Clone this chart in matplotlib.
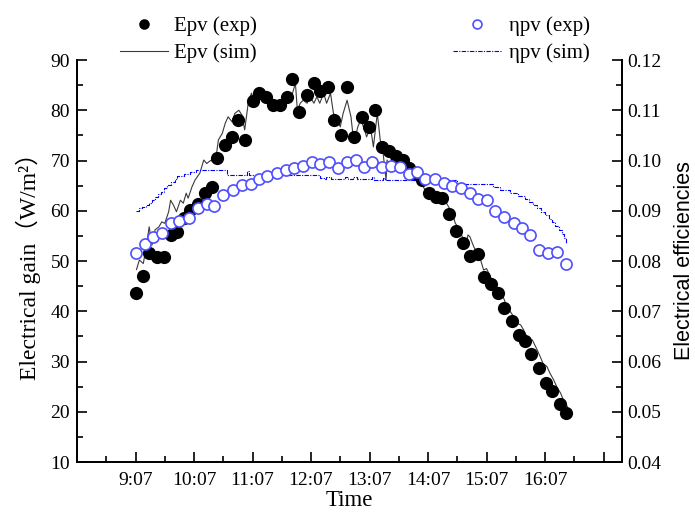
import matplotlib
matplotlib.use("Agg")
import matplotlib.pyplot as plt
from matplotlib.ticker import FixedLocator, MultipleLocator

plt.rcParams['font.family'] = ['Liberation Serif', 'DejaVu Serif']

# --- data, time in minutes after midnight ---
t_exp = [548, 555, 561, 569, 576, 583, 590, 597, 603, 611,
         618, 625, 631, 639, 646, 652, 659, 667, 674, 681,
         688, 695, 702, 708, 715, 723, 730, 736, 744, 751,
         758, 764, 771, 779, 786, 793, 800, 807, 814, 821,
         827, 834, 841, 848, 855, 861, 869, 876, 883, 890,
         898, 904, 912, 919, 925, 933, 940, 946, 953, 961,
         968, 974, 982, 989]
epv_exp = [43.6, 47.0, 51.5, 50.7, 50.7, 55.2, 55.7, 58.5, 60.1, 61.3,
           63.6, 64.7, 70.5, 73.1, 74.7, 78.1, 74.1, 81.9, 83.4, 82.7,
           81.0, 81.0, 82.7, 86.3, 79.7, 83.1, 85.5, 83.8, 84.7, 78.1,
           75.1, 84.7, 74.6, 78.6, 76.7, 80.0, 72.6, 71.8, 70.8, 70.2,
           68.5, 67.3, 66.1, 63.5, 62.8, 62.5, 59.3, 56.0, 53.5, 51.0,
           51.4, 46.9, 45.5, 43.7, 40.6, 38.1, 35.2, 34.1, 31.4, 28.7,
           25.8, 24.2, 21.5, 19.7]

t_sim = [548, 551, 555, 558, 561, 564, 567, 571, 574, 577,
         581, 583, 586, 589, 593, 596, 599, 601, 605, 608,
         613, 617, 620, 624, 629, 632, 636, 639, 642, 646,
         649, 653, 656, 659, 663, 666, 670, 672, 675, 678,
         682, 685, 689, 692, 697, 702, 707, 711, 713, 716,
         719, 723, 726, 730, 733, 736, 740, 743, 747, 750,
         754, 757, 760, 764, 768, 771, 775, 778, 782, 784,
         788, 791, 795, 798, 801, 804, 805, 807, 810, 815,
         819, 825, 832, 837, 842, 846, 851, 856, 861, 866,
         872, 875, 880, 883, 887, 888, 890, 894, 897, 901,
         904, 907, 911, 914, 918, 921, 924, 928, 935, 938,
         942, 945, 950, 954, 959, 962, 965, 969, 972, 976,
         979, 983, 986, 990]
epv_sim = [48.3, 50.2, 49.5, 52.8, 56.8, 53.2, 56.2, 56.8, 57.8, 57.5,
           59.8, 62.1, 61.1, 59.8, 62.1, 61.5, 63.5, 62.5, 64.8, 66.1,
           67.5, 70.1, 69.4, 70.0, 69.8, 74.1, 75.4, 77.4, 78.7, 77.7,
           79.4, 80.0, 79.1, 76.1, 82.0, 83.4, 80.7, 83.0, 84.0, 82.7,
           83.4, 81.4, 82.0, 81.4, 80.7, 82.7, 82.7, 85.4, 80.0, 81.4,
           82.0, 81.4, 82.7, 81.4, 82.7, 81.4, 83.4, 81.4, 83.4, 79.4,
           78.1, 76.7, 79.4, 82.0, 78.7, 73.4, 76.7, 78.1, 76.1, 74.7,
           76.7, 72.7, 79.4, 74.1, 71.4, 66.1, 70.1, 68.1, 70.1, 70.1,
           68.8, 68.1, 67.1, 66.1, 64.8, 63.5, 63.8, 63.1, 62.8, 61.5,
           59.5, 57.5, 56.2, 54.2, 54.2, 55.2, 54.8, 52.8, 51.8, 50.2,
           48.2, 48.5, 46.9, 45.6, 44.2, 43.6, 42.9, 40.9, 38.9, 37.6,
           37.3, 36.3, 34.3, 34.3, 32.3, 31.0, 29.6, 29.0, 27.7, 26.3,
           25.0, 23.7, 22.3, 21.0]

t_eta = [548, 557, 565, 574, 583, 592, 602, 611, 620, 628,
         637, 647, 656, 665, 674, 682, 692, 701, 710, 719,
         728, 736, 745, 755, 764, 773, 781, 790, 800, 809,
         818, 827, 836, 844, 854, 863, 872, 881, 890, 898,
         907, 916, 925, 935, 943, 952, 961, 970, 979, 989]
eta_exp = [0.0815, 0.0834, 0.0847, 0.0856, 0.0876, 0.0879, 0.0886, 0.0905, 0.0913, 0.0909,
           0.0932, 0.0941, 0.0951, 0.0953, 0.0964, 0.0969, 0.0975, 0.0981, 0.0985, 0.0990,
           0.0997, 0.0994, 0.0997, 0.0986, 0.0997, 0.1001, 0.0988, 0.0997, 0.0988, 0.0989,
           0.0988, 0.0973, 0.0978, 0.0964, 0.0964, 0.0956, 0.0949, 0.0945, 0.0935, 0.0923,
           0.0921, 0.0900, 0.0888, 0.0876, 0.0866, 0.0852, 0.0822, 0.0815, 0.0817, 0.0794]

t_eta_sim = [548, 551, 554, 558, 561, 564, 567, 570, 573, 576,
             579, 583, 587, 590, 597, 603, 609, 641, 661, 663,
             736, 740, 742, 747, 762, 765, 770, 774, 790, 792,
             801, 803, 877, 914, 921, 931, 939, 946, 951, 955,
             959, 963, 967, 971, 974, 977, 981, 984, 986, 989]
eta_sim = [0.0900, 0.0905, 0.0908, 0.0912, 0.0916, 0.0922, 0.0928, 0.0933, 0.0938, 0.0946,
           0.0952, 0.0958, 0.0964, 0.0970, 0.0974, 0.0977, 0.0981, 0.0972, 0.0980, 0.0972,
           0.0966, 0.0963, 0.0967, 0.0963, 0.0967, 0.0963, 0.0967, 0.0963, 0.0967, 0.0962,
           0.0966, 0.0962, 0.0953, 0.0948, 0.0942, 0.0936, 0.0930, 0.0924, 0.0918, 0.0911,
           0.0905, 0.0898, 0.0891, 0.0884, 0.0877, 0.0869, 0.0862, 0.0854, 0.0846, 0.0836]

tick_minutes = [547, 607, 667, 727, 787, 847, 907, 967, 1027]
tick_labels = ['9:07', '10:07', '11:07', '12:07', '13:07', '14:07', '15:07', '16:07', '']

# --- figure ---
fig = plt.figure(figsize=(6.95, 5.13), dpi=100)
ax = fig.add_axes([0.1108, 0.0994, 0.7842, 0.7836])
ax2 = ax.twinx()

h_sim, = ax.plot(t_sim, epv_sim, color='#3a3a3a', lw=0.8)
h_exp, = ax.plot(t_exp, epv_exp, 'o', color='black', ms=9.5, mew=0)

h_esim, = ax2.plot(t_eta_sim, eta_sim, color='#0000ff', lw=0.8,
                   ls=(0, (4, 1.2, 1, 1.2)), drawstyle='steps-post')
h_eexp, = ax2.plot(t_eta, eta_exp, 'o', mfc='white', mec='#4f4fff', ms=8, mew=1.2)

ax.set_xlim(487, 1046)
ax.set_ylim(10, 90)
ax2.set_ylim(0.04, 0.12)

ax.xaxis.set_major_locator(FixedLocator(tick_minutes))
ax.set_xticklabels(tick_labels)
ax.xaxis.set_minor_locator(FixedLocator([m - 30 for m in tick_minutes]))
ax.yaxis.set_major_locator(MultipleLocator(10))
ax.yaxis.set_minor_locator(MultipleLocator(5))
ax2.yaxis.set_major_locator(MultipleLocator(0.01))
ax2.yaxis.set_minor_locator(MultipleLocator(0.005))
ax2.yaxis.set_major_formatter(plt.FuncFormatter(lambda v, p: f'{v:.2f}'))

for a in (ax, ax2):
    a.spines['top'].set_visible(False)
    for s in a.spines.values():
        s.set_linewidth(1.3)
    a.tick_params(which='major', direction='in', length=7, width=1.2, labelsize=14)
    a.tick_params(which='minor', direction='in', length=4, width=1.2)
ax.tick_params(axis='y', pad=5)
ax.tick_params(axis='x', pad=7)
ax2.tick_params(axis='y', pad=4)

ax.set_xlabel('Time', fontsize=16.5, labelpad=1)
ax.set_ylabel('Electrical gain（W/m²）', fontsize=17, labelpad=7,
              family=['Liberation Serif', 'Noto Sans CJK SC'])
ax2.set_ylabel('Electrical efficiencies', fontsize=15.5, family='Liberation Sans', labelpad=9)

fig.legend([h_exp, h_sim], ['Epv (exp)', 'Epv (sim)'], loc='upper left',
           bbox_to_anchor=(0.1727, 0.9675), frameon=False, fontsize=15,
           handlelength=2.3, handletextpad=0.3, labelspacing=0.35,
           borderpad=0, borderaxespad=0, markerscale=0.8)
fig.legend([h_eexp, h_esim], ['ηpv (exp)', 'ηpv (sim)'], loc='upper left',
           bbox_to_anchor=(0.652, 0.9675), frameon=False, fontsize=15,
           handlelength=2.3, handletextpad=0.4, labelspacing=0.35,
           borderpad=0, borderaxespad=0, markerscale=0.8)

fig.savefig('out.png', dpi=100)
